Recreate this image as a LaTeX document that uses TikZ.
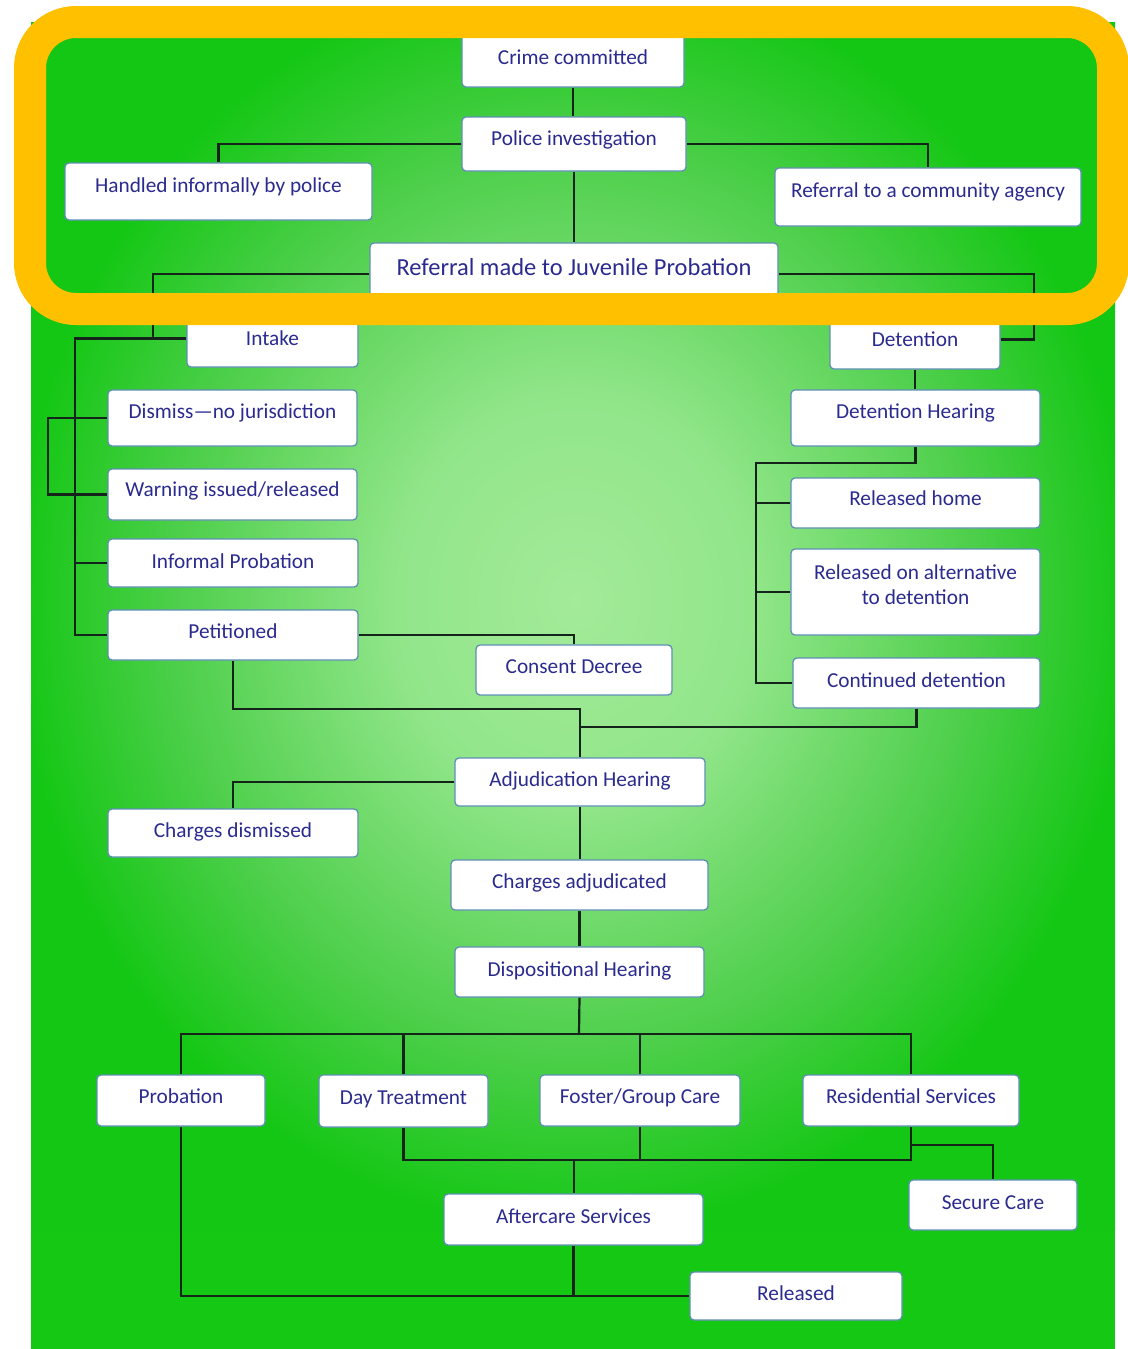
\documentclass[tikz,border=0pt]{standalone}
\usepackage{fontspec}
\setmainfont{Carlito}
\definecolor{txt}{HTML}{2B2B8F}
\definecolor{boxline}{HTML}{5F8FB5}
\definecolor{wire}{HTML}{14241A}
\definecolor{frame}{HTML}{FFC000}
\definecolor{gdark}{HTML}{14C814}
\pgfdeclareradialshading{bgshade}{\pgfpoint{0bp}{0bp}}{rgb(0bp)=(0.64,0.92,0.60); rgb(8bp)=(0.57,0.90,0.54); rgb(18bp)=(0.30,0.81,0.29); rgb(25bp)=(0.08,0.78,0.08); rgb(50bp)=(0.08,0.78,0.08)}
\begin{document}
\begin{tikzpicture}[x=1pt,y=-1pt,
  bx/.style={draw=boxline, line width=1.3pt, fill=white, rounded corners=4pt,
    inner xsep=0pt, inner ysep=0pt, minimum height=0pt, anchor=base,
    font=\fontsize{21.3}{25}\selectfont, text=txt},
  wires/.style={draw=wire, line width=2.2pt}]
\useasboundingbox (0,0) rectangle (1127,1349);
\fill[white] (0,0) rectangle (1127,1349);
% background
\begin{scope}
  \clip (31,22) rectangle (1115,1349);
  \fill[gdark] (31,22) rectangle (1115,1349);
  \shade[shading=bgshade] (15,-30) rectangle (1135,1230);
\end{scope}
% nodes
\node[bx, minimum width=222pt, text height=35pt, text depth=23pt] (crime) at (573,64) {Crime committed};
\node[bx, minimum width=224pt, text height=28pt, text depth=26pt] (police) at (574,145) {Police investigation};
\node[bx, minimum width=307pt, text height=29pt, text depth=28pt] (handled) at (218.5,192) {Handled informally by police};
\node[bx, minimum width=306pt, text height=29pt, text depth=29pt] (refcomm) at (928,197) {Referral to a community agency};
\node[bx, minimum width=408pt, text height=32pt, text depth=30pt, font=\fontsize{24.5}{28}\selectfont] (refjuv) at (574,275) {Referral made to Juvenile Probation};
\node[bx, minimum width=171pt, text height=35pt, text depth=22pt] (intake) at (272.5,345) {Intake};
\node[bx, minimum width=170pt, text height=36pt, text depth=23pt] (detention) at (915,346) {Detention};
\node[bx, minimum width=249pt, text height=28pt, text depth=28pt] (dismiss) at (232.5,418) {Dismiss—no jurisdiction};
\node[bx, minimum width=249pt, text height=27pt, text depth=24pt] (warning) at (232.5,496) {Warning issued/released};
\node[bx, minimum width=250pt, text height=29pt, text depth=19pt] (informal) at (233,568) {Informal Probation};
\node[bx, minimum width=250pt, text height=28pt, text depth=22pt] (petitioned) at (233,638) {Petitioned};
\node[bx, minimum width=196pt, text height=28pt, text depth=22pt] (consent) at (574,673) {Consent Decree};
\node[bx, minimum width=249pt, text height=28pt, text depth=28pt] (dethear) at (915.5,418) {Detention Hearing};
\node[bx, minimum width=249pt, text height=27pt, text depth=23pt] (relhome) at (915.5,505) {Released home};
\node[bx, minimum width=249pt, text height=30pt, text depth=56pt] (relalt) at (915.5,579)
  {\begin{tabular}[t]{@{}c@{}}Released on alternative\\[0pt] to detention\end{tabular}};
\node[bx, minimum width=247pt, text height=29pt, text depth=21pt] (contdet) at (916.5,687) {Continued detention};
\node[bx, minimum width=250pt, text height=28pt, text depth=20pt] (adjhear) at (580,786) {Adjudication Hearing};
\node[bx, minimum width=250pt, text height=28pt, text depth=20pt] (chdism) at (233,837) {Charges dismissed};
\node[bx, minimum width=257pt, text height=28pt, text depth=22pt] (chadj) at (579.5,888) {Charges adjudicated};
\node[bx, minimum width=249pt, text height=29pt, text depth=21pt] (disp) at (579.5,976) {Dispositional Hearing};
\node[bx, minimum width=168pt, text height=28pt, text depth=23pt] (probation) at (181,1103) {Probation};
\node[bx, minimum width=169pt, text height=29pt, text depth=23pt] (daytreat) at (403.5,1104) {Day Treatment};
\node[bx, minimum width=200pt, text height=28pt, text depth=23pt] (foster) at (640,1103) {Foster/Group Care};
\node[bx, minimum width=216pt, text height=28pt, text depth=23pt] (resid) at (911,1103) {Residential Services};
\node[bx, minimum width=168pt, text height=29pt, text depth=21pt] (secure) at (993,1209) {Secure Care};
\node[bx, minimum width=259pt, text height=29pt, text depth=22pt] (aftercare) at (573.5,1223) {Aftercare Services};
\node[bx, minimum width=212pt, text height=28pt, text depth=20pt] (released) at (796,1300) {Released};
% junction coordinates
\coordinate (lbus) at (75,0);
\coordinate (j1) at (580,709);
\coordinate (j2) at (580,727);
\coordinate (db) at (579,1034);
\coordinate (lb2) at (574,1160);
\coordinate (rs) at (911,1145);
% connectors
\begin{scope}[wires]
\draw (crime.south) -- (crime.south |- police.north);
\draw (police.west) -| (handled.north);
\draw (police.east) -| (refcomm.north);
\draw (police.south) -- (police.south |- refjuv.north);
\draw (refjuv.west) -| ([xshift=-33pt]intake.west);
\draw (intake.west) -- (intake.west -| lbus) -- (petitioned.west -| lbus) -- (petitioned.west);
\draw (dismiss.west) -- ++(-59,0) |- (warning.west);
\draw (informal.west) -- (informal.west -| lbus);
\draw (petitioned.east) -| (consent.north);
\draw (petitioned.south) |- (j1) -- (adjhear.north);
\draw (contdet.south) |- (j2);
\draw (refjuv.east) -| ([xshift=33pt]detention.east) -- (detention.east);
\draw (detention.south) -- (detention.south |- dethear.north);
\draw (dethear.south) -- ++(0,16) -| ([xshift=-36pt]contdet.west) -- (contdet.west);
\draw (relhome.west) -- ++(-34,0);
\draw (relalt.west) -- ++(-34,0);
\draw (adjhear.west) -| (chdism.north);
\draw (adjhear.south) -- (adjhear.south |- chadj.north);
\draw (chadj.south) -- (chadj.south |- disp.north);
\draw (disp.south) -- (db);
\draw (probation.north) |- (db) -| (resid.north);
\draw (daytreat.north) -- (daytreat.north |- db);
\draw (foster.north) -- (foster.north |- db);
\draw (daytreat.south) |- (lb2) -| (resid.south);
\draw (foster.south) -- (foster.south |- lb2);
\draw (lb2) -- (lb2 |- aftercare.north);
\draw (rs) -| (secure.north);
\draw (probation.south) |- (released.west);
\draw (aftercare.south) -- (aftercare.south |- released.west);
\end{scope}
% highlight frame
\draw[frame, line width=32pt, rounded corners=46pt] (30,22) rectangle (1113,309);
\end{tikzpicture}
\end{document}
